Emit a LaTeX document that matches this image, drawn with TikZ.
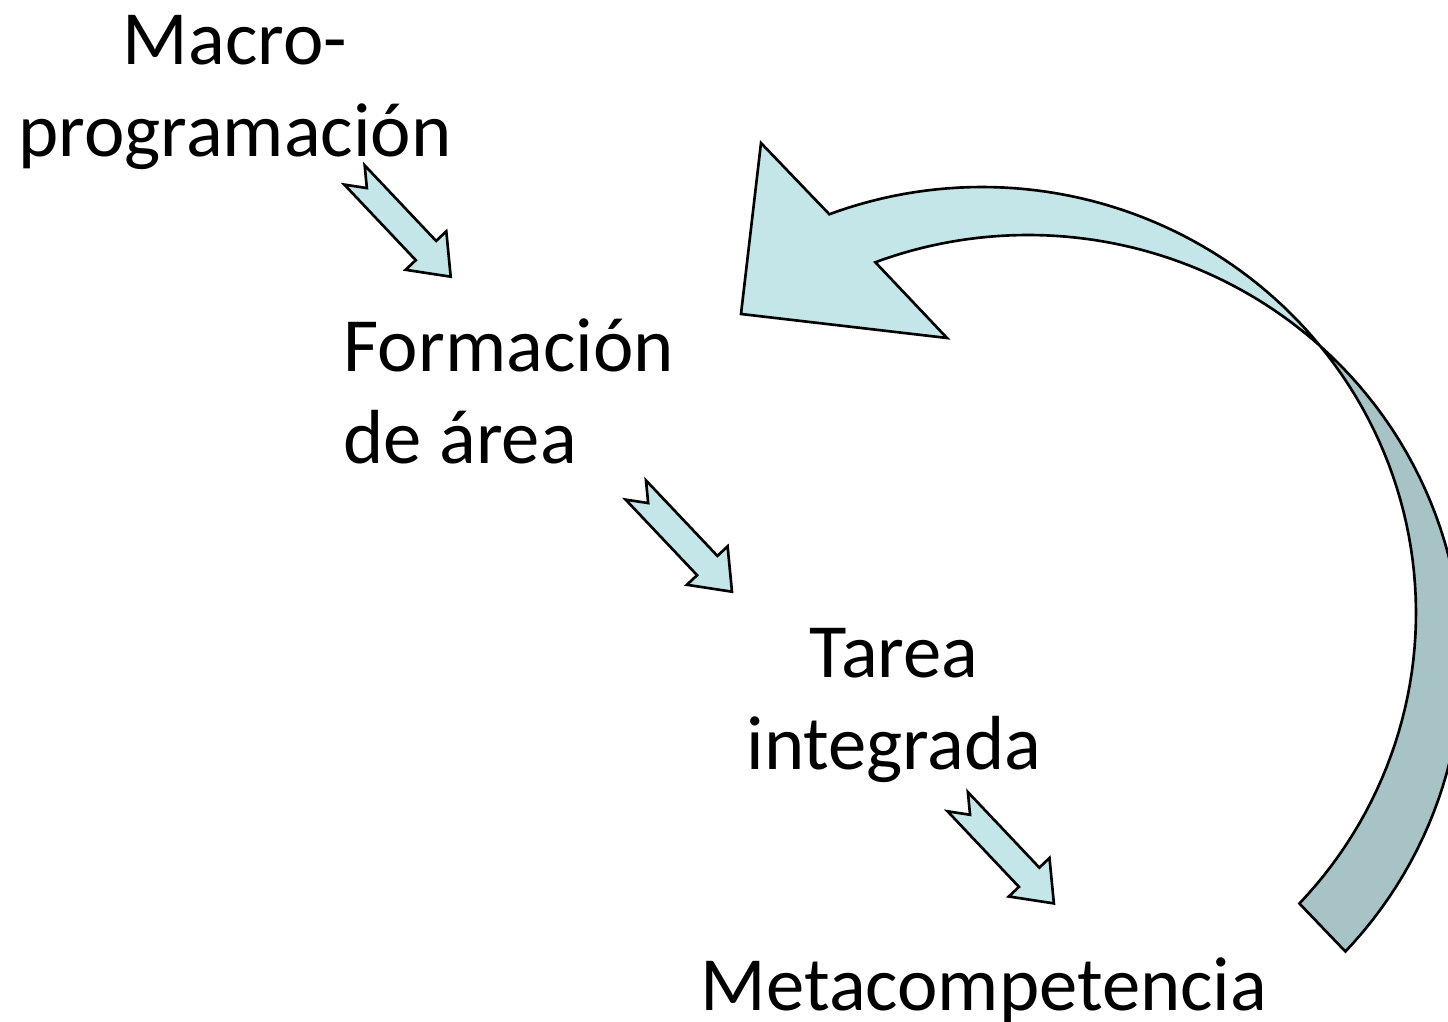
\documentclass[tikz,border=0pt]{standalone}
\usepackage{fontspec}
\setmainfont{Carlito}
\definecolor{ribbon}{RGB}{197,230,232}
\definecolor{ribbonback}{RGB}{167,195,198}
\tikzstyle{stage}=[inner sep=0pt, font=\fontsize{21.8pt}{26.4pt}\selectfont]
\tikzstyle{block}=[draw=black, line width=0.75pt, fill=ribbon, line join=miter]

\begin{document}
\begin{tikzpicture}[x=0.01cm, y=-0.01cm,
    notched/.pic={\path[block] (0,-14) -- (104,-14) -- (104,-28) -- (140,0) -- (104,28) -- (104,14) -- (0,14) -- (18,0) -- cycle;}]
  \useasboundingbox (0,0) rectangle (1448,1022);
  \clip (0,0) rectangle (1448,1022);

  % base of a two-line node is the baseline of its last line
  \node (macro) [stage, anchor=base, align=center] at (235,157) {Macro-\\programación};
  \node (area) [stage, anchor=base west, align=left] at (343,464) {Formación\\de área};
  \node (tarea) [stage, anchor=base, align=center] at (894,770) {Tarea\\integrada};
  \node (meta) [stage, anchor=base] at (984,1011) {Metacompetencia};

  \pic[rotate=-46.6] at (354.5,175) {notched};
  \pic[rotate=-46.6] at (635.8,490) {notched};
  \pic[rotate=-46.6] at (957.7,801.7) {notched};

  % back of the ribbon
  \path[block, fill=ribbonback] plot[domain=-38.8:43, samples=50] ({982+434*cos(\x)},{613+426*sin(\x)})
    -- plot[domain=43:-47.7, samples=50] ({1028+434*cos(\x)},{661+426*sin(\x)}) -- cycle;
  % front of the ribbon with its head
  \path[block] (761,143) -- plot[domain=-110.6:-38.8, samples=50] ({982+434*cos(\x)},{613+426*sin(\x)})
    -- plot[domain=-47.7:-110.6, samples=50] ({1028+434*cos(\x)},{661+426*sin(\x)})
    -- (947,338) -- (741,314) -- cycle;
\end{tikzpicture}
\end{document}
